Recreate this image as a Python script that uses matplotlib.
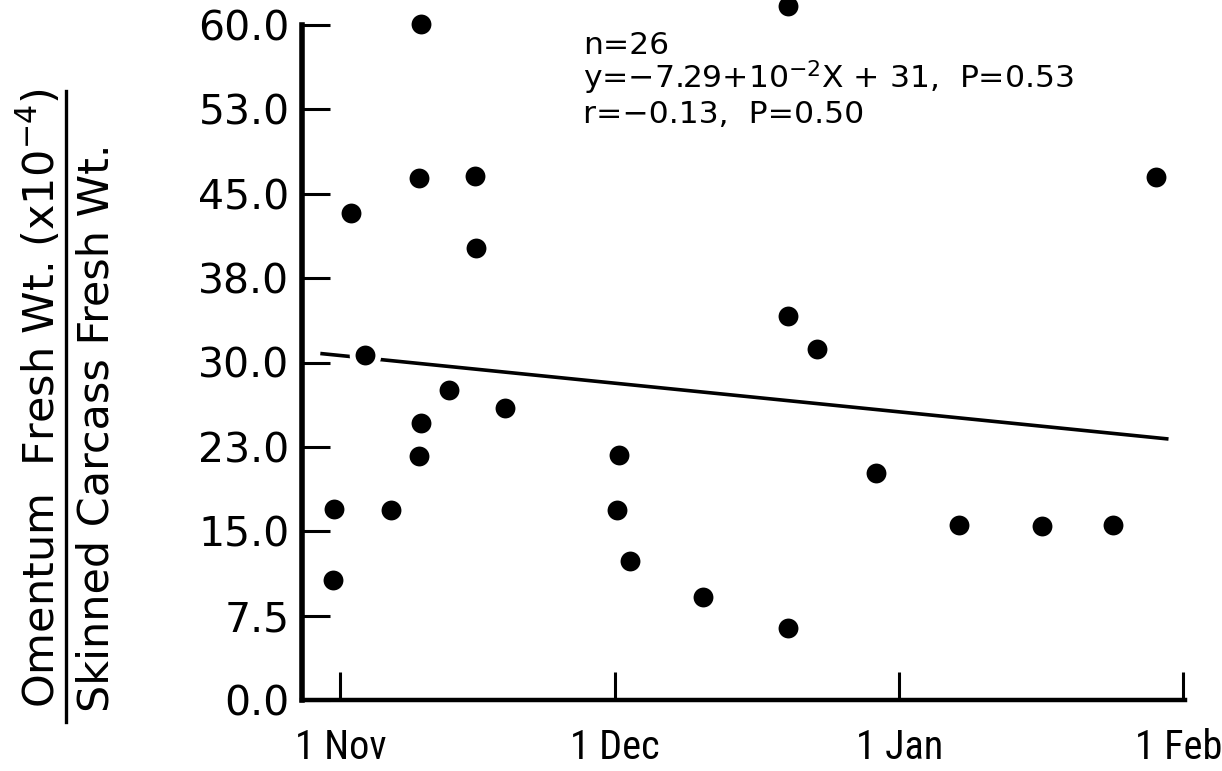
import matplotlib
matplotlib.use("Agg")
import matplotlib.pyplot as plt
from matplotlib import font_manager
from matplotlib.font_manager import FontProperties
from matplotlib.lines import Line2D
from matplotlib.transforms import ScaledTranslation

# ---- data (days since 1 Nov, ratio x10^-4) ----
days = [-0.8, -0.7, 1.1, 2.7, 5.5, 8.8, 8.6, 8.8, 8.6, 11.8, 14.7, 14.8, 18.0,
        30.4, 30.2, 31.6, 39.6, 48.9, 48.9, 48.9, 52.0, 58.5, 67.5, 76.6, 84.3, 89.0]
ratio = [10.7, 17.0, 43.3, 30.7, 16.9, 60.1, 46.4, 24.6, 21.7, 27.6, 46.6, 40.2, 26.0,
         21.8, 16.9, 12.4, 9.2, 61.7, 34.1, 6.4, 31.2, 20.2, 15.6, 15.5, 15.6, 46.5]

fit_days = [-2.2, 90.4]
fit_vals = [30.8, 23.2]

x_tick_days = [0, 30, 61, 92]
x_tick_labels = ["1 Nov", "1 Dec", "1 Jan", "1 Feb"]
y_ticks = [0, 7.5, 15, 22.5, 30, 37.5, 45, 52.5, 60]
y_tick_labels = ["0.0", "7.5", "15.0", "23.0", "30.0", "38.0", "45.0", "53.0", "60.0"]

stats_lines = ["n=26",
               "y=\u22127.29+10$^{-2}$X + 31,  P=0.53",
               "r=\u22120.13,  P=0.50"]
ylabel_top = "Omentum  Fresh Wt. (x10$^{-4}$)"
ylabel_bottom = "Skinned Carcass Fresh Wt."

# ---- fonts ----
plt.rcParams["font.family"] = ["DejaVu Sans"]
plt.rcParams["mathtext.fontset"] = "dejavusans"

cond_path = None
preferred = ["Liberation Sans Narrow", "Roboto Condensed", "Noto Sans Condensed",
             "DejaVu Sans Condensed", "Open Sans Condensed"]
fonts = font_manager.fontManager.ttflist
for nm in preferred:
    for f in fonts:
        if f.name == nm and f.weight in (400, "normal", "regular") and f.style == "normal":
            cond_path = f.fname
            break
    if cond_path:
        break
if cond_path is None:
    for f in fonts:
        if (f.name in ("Noto Sans", "DejaVu Sans", "Open Sans", "Roboto")
                and str(f.stretch) in ("condensed", "semi-condensed", "500", "300")
                and f.style == "normal" and f.weight in (400, "normal", "regular")):
            cond_path = f.fname
            break
if cond_path:
    xfp = FontProperties(fname=cond_path, size=29)
    feb_shift = -4
else:
    xfp = FontProperties(family="Liberation Sans", size=26)
    feb_shift = -10

W, H = 1222, 771
fig = plt.figure(figsize=(W / 100, H / 100), dpi=100)
fig.patch.set_facecolor("white")

left_px, right_px, top_px, bottom_px = 302, 1185, 25, 700
ax = fig.add_axes([left_px / W, 1 - bottom_px / H,
                   (right_px - left_px) / W, (bottom_px - top_px) / H])

ax.set_xlim(-4.2, 92.2)
ax.set_ylim(0, 60)

for s in ["top", "right"]:
    ax.spines[s].set_visible(False)
ax.spines["left"].set_linewidth(4.0)
ax.spines["bottom"].set_linewidth(3.2)
ax.spines["left"].set_capstyle("projecting")
ax.spines["bottom"].set_capstyle("projecting")

ax.set_xticks(x_tick_days)
ax.set_xticklabels(x_tick_labels, fontproperties=xfp)
ax.set_yticks(y_ticks)
ax.set_yticklabels(y_tick_labels, fontsize=29.5)
ax.tick_params(axis="y", direction="in", length=20, width=2.2, pad=9)
ax.tick_params(axis="x", direction="in", length=20, width=2.2, pad=20)

# nudge the last date label so it stays inside the picture
last = ax.get_xticklabels()[-1]
last.set_transform(last.get_transform() +
                   ScaledTranslation(feb_shift / 100, 0, fig.dpi_scale_trans))

# regression line
ax.plot(fit_days, fit_vals, color="black", linewidth=2.6, zorder=2,
        solid_capstyle="butt")

# data points
ax.plot(days, ratio, linestyle="none", marker="o", markersize=18.5,
        markerfacecolor="black", markeredgecolor="white", markeredgewidth=4.2,
        zorder=3, clip_on=False)

# statistics text
x0 = 583 / W
for txt, base in zip(stats_lines, [54, 88, 123]):
    fig.text(x0, 1 - base / H, txt, fontsize=22.6, ha="left", va="baseline")

# y label as fraction
fig.text(40 / W, 1 - 398 / H, ylabel_top, rotation=90, fontsize=31,
         ha="center", va="center")
fig.text(97 / W, 1 - 428 / H, ylabel_bottom, rotation=90, fontsize=31,
         ha="center", va="center")
fig.add_artist(Line2D([66 / W, 66 / W], [1 - 91 / H, 1 - 722 / H],
                      transform=fig.transFigure, color="black", linewidth=2.4))

fig.savefig("out.png", dpi=100, facecolor="white")
